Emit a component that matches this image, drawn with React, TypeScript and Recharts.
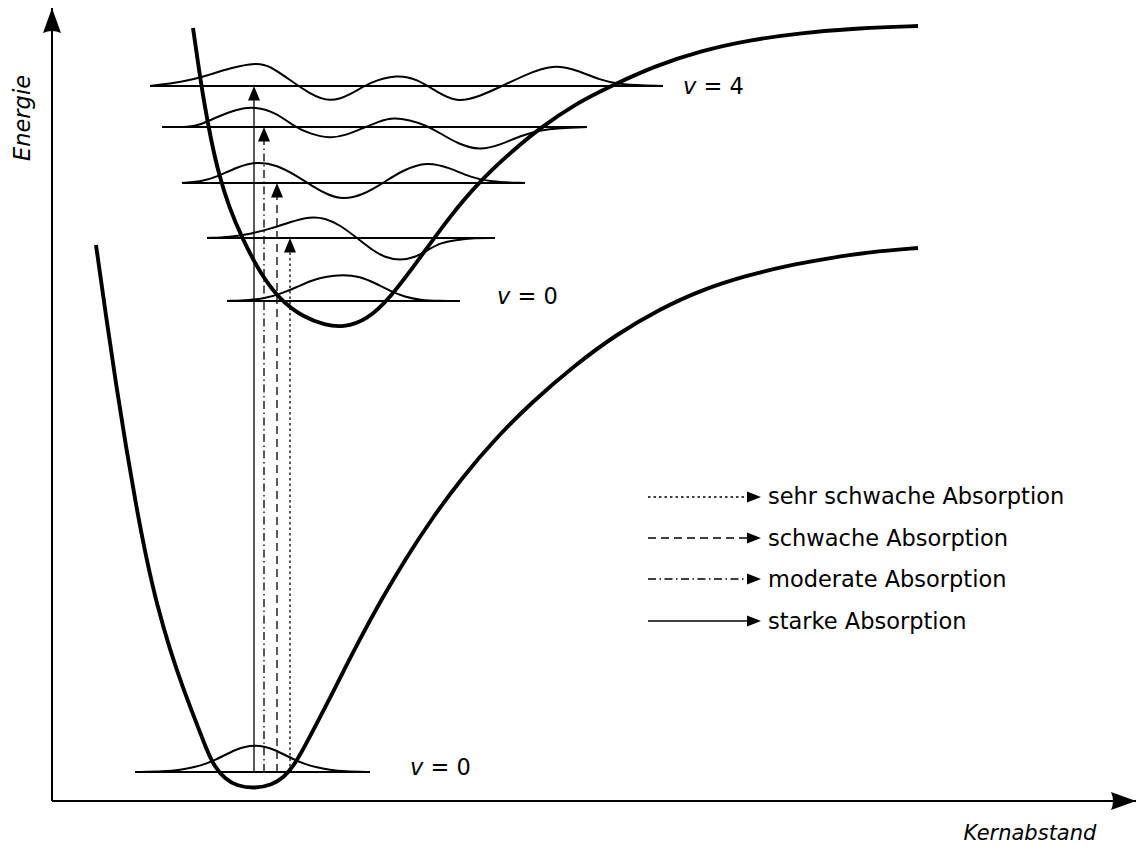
import React from 'react';
import { ComposedChart, Line, XAxis, YAxis, ReferenceLine, ReferenceDot, Legend } from 'recharts';

// ---------------- data (x = Kernabstand, y = Energie, arbitrary units) ----------------
const groundPotential = [
  [44, 556], [54, 485], [64, 417], [74, 354], [84, 296], [94, 244], [105, 196], [118, 151], [131, 113],
  [144, 79], [154, 53], [162, 35], [173, 22], [185, 15], [203, 12.5], [220, 16], [232, 24], [241, 34],
  [253, 55], [266, 80], [278, 103], [293, 133], [308, 162], [328, 199], [354, 243], [381, 284], [409, 322],
  [443, 362], [480, 399], [523, 436], [565, 467], [608, 492], [649, 511], [693, 525], [733, 535], [778, 543],
  [817, 549], [866, 553],
];
const excitedPotential = [
  [141, 773], [146, 738], [152, 699], [159, 661], [167, 626], [177, 594], [190, 563], [208, 528], [228, 501],
  [251, 484], [273, 476], [291, 473.5], [315, 481], [338, 503], [365, 539], [398, 585], [428, 620], [458, 648],
  [488, 673], [523, 697], [561, 716], [603, 735], [648, 750], [698, 761], [748, 768], [808, 773], [866, 775],
];

const groundLevelEnergy = 29;
const groundLevelStart = 83;
const groundLevelEnd = 318;
const excitedLevelEnergy = [500, 563, 618, 674, 715];
const excitedLevelStart = [175, 155, 130, 110, 98];
const excitedLevelEnd = [408, 443, 473, 535, 611];

const groundPsi0 = [
  [83, 29], [113, 29.5], [128, 31], [143, 34], [153, 37], [163, 41], [173, 46], [183, 51], [193, 54.5], [203, 55.5],
  [213, 54.5], [223, 51], [233, 46], [243, 41], [253, 37], [263, 34], [278, 31], [293, 29.5], [318, 29],
];
const excitedPsi0 = [
  [175, 500], [198, 501], [213, 502.5], [231, 508], [245, 514], [258, 520], [273, 524.5], [291, 526.5], [308, 524.5],
  [323, 518], [338, 510], [353, 504], [368, 501], [388, 500], [408, 500],
];
const excitedPsi1 = [
  [155, 563], [178, 564], [198, 567], [218, 572], [238, 579], [258, 584.5], [273, 583], [288, 576], [305, 563],
  [320, 551], [333, 543.5], [348, 540.5], [363, 543.5], [376, 551], [388, 558], [403, 561], [423, 563], [443, 563],
];
const excitedPsi2 = [
  [130, 618], [148, 619], [165, 624], [185, 634], [205, 639.5], [225, 636], [245, 625], [260, 615], [276, 606],
  [291, 601.5], [311, 606], [331, 618], [351, 631], [375, 639.5], [398, 633], [418, 624], [438, 619], [473, 618],
];
const excitedPsi3 = [
  [110, 674], [138, 674], [148, 676], [165, 684], [185, 692], [203, 694.5], [225, 688], [241, 675], [258, 667],
  [278, 662.5], [295, 666], [311, 673], [328, 680], [341, 683.5], [358, 681], [373, 676], [388, 668], [406, 657],
  [428, 650.5], [448, 656], [468, 665], [488, 671], [508, 673], [535, 674],
];
const excitedPsi4 = [
  [98, 715], [131, 719], [151, 724], [178, 733], [205, 738.5], [218, 735], [238, 721], [258, 707], [278, 698.5],
  [298, 706], [318, 719], [345, 726.5], [365, 722], [385, 709], [405, 698.5], [426, 704], [448, 714], [475, 727],
  [501, 736.5], [525, 731], [548, 721], [568, 716], [611, 715],
];

const transitionNames = ['sehr schwache Absorption', 'schwache Absorption', 'moderate Absorption', 'starke Absorption'];
const transitionX = [238, 225, 212, 202];
const transitionTargetV = [1, 2, 3, 4];

const levelLabelText = ['4', '0', '0'];
const levelLabelX = [631, 445, 358];
const levelLabelY = [715, 505, 34];

const X_MAX = 1084;
const Y_MAX = 793;

// ---------------- styles ----------------
const FONT = '"DejaVu Sans", "Noto Sans", sans-serif';
const INK = '#000';
const transitionDash = ['2.5 3', '8 5', '8 3.5 1.5 3.5', undefined];

const toPoints = (arr: number[][]) => arr.map(([x, y]) => ({ x, y }));
const levelSegment = (E: number, a: number, b: number) => [{ x: a, y: E }, { x: b, y: E }];

const UpHead = (props: any) => {
  const { cx, cy } = props;
  if (cx == null || cy == null) return null;
  return <path d={`M${cx},${cy} L${cx - 6},${cy + 14.5} L${cx + 6},${cy + 14.5} Z`} fill={INK} />;
};
const AxisHeadUp = (props: any) => {
  const { cx, cy } = props;
  if (cx == null || cy == null) return null;
  return <path d={`M${cx},${cy} L${cx - 9},${cy + 25} Q${cx},${cy + 21} ${cx + 9},${cy + 25} Z`} fill={INK} />;
};
const AxisHeadRight = (props: any) => {
  const { cx, cy } = props;
  if (cx == null || cy == null) return null;
  return <path d={`M${cx},${cy} L${cx - 25},${cy - 9} Q${cx - 21},${cy} ${cx - 25},${cy + 9} Z`} fill={INK} />;
};
const makeLevelLabel = (txt: string) => (props: any) => {
  const { cx, cy } = props;
  if (cx == null || cy == null) return null;
  return (
    <text x={cx} y={cy} dominantBaseline="central" fontFamily={FONT} fontSize={22.5} fill={INK}>
      <tspan fontStyle="italic">v</tspan>
      {' = ' + txt}
    </text>
  );
};

const XTitle = (props: any) => {
  const vb = props.viewBox || { x: 52, y: 801, width: 1084, height: 45 };
  return (
    <text x={vb.x + vb.width - 106} y={vb.y + 39} textAnchor="middle" fontFamily={FONT} fontStyle="italic" fontSize={21} fill={INK}>
      Kernabstand
    </text>
  );
};
const YTitle = (props: any) => {
  const vb = props.viewBox || { x: 0, y: 8, width: 52, height: 793 };
  const cx = vb.x + 22;
  const cy = vb.y + 110;
  return (
    <text x={cx} y={cy} textAnchor="middle" dominantBaseline="central" transform={`rotate(-90 ${cx} ${cy})`}
      fontFamily={FONT} fontStyle="italic" fontSize={22.5} fill={INK}>
      Energie
    </text>
  );
};

const LegendContent = () => (
  <div style={{ fontFamily: FONT, fontSize: 22.5, color: INK, lineHeight: 1 }}>
    {transitionNames.map((name, i) => (
      <div key={name} style={{ display: 'flex', alignItems: 'center', height: 41.4 }}>
        <svg width={120} height={20} style={{ display: 'block' }}>
          <line x1={0} y1={10} x2={101} y2={10} stroke={INK} strokeWidth={1.3} strokeDasharray={transitionDash[i]} />
          <path d="M113,10 L99,4.5 L99,15.5 Z" fill={INK} />
        </svg>
        <span style={{ whiteSpace: 'nowrap' }}>{name}</span>
      </div>
    ))}
  </div>
);

const wavefunctions = [groundPsi0, excitedPsi0, excitedPsi1, excitedPsi2, excitedPsi3, excitedPsi4];

export default function App() {
  return (
    <div style={{ position: 'absolute', left: 0, top: 0, width: 1137, height: 846, background: '#fff' }}>
      <ComposedChart width={1137} height={846} margin={{ top: 8, right: 1, bottom: 0, left: 0 }}>
        <XAxis type="number" dataKey="x" domain={[0, X_MAX]} height={45} tick={false} tickLine={false}
          axisLine={{ stroke: INK, strokeWidth: 2 }} label={<XTitle />} />
        <YAxis type="number" domain={[0, Y_MAX]} width={52} tick={false} tickLine={false}
          axisLine={{ stroke: INK, strokeWidth: 2 }} label={<YTitle />} />

        <Line data={levelSegment(groundLevelEnergy, groundLevelStart, groundLevelEnd)} dataKey="y" type="linear"
          stroke={INK} strokeWidth={2.2} dot={false} activeDot={false} legendType="none" isAnimationActive={false} />
        {excitedLevelEnergy.map((E, i) => (
          <Line key={'lvl' + i} data={levelSegment(E, excitedLevelStart[i], excitedLevelEnd[i])} dataKey="y" type="linear"
            stroke={INK} strokeWidth={2.2} dot={false} activeDot={false} legendType="none" isAnimationActive={false} />
        ))}

        {wavefunctions.map((w, i) => (
          <Line key={'psi' + i} data={toPoints(w)} dataKey="y" type="basis"
            stroke={INK} strokeWidth={2} dot={false} activeDot={false} legendType="none" isAnimationActive={false} />
        ))}

        <Line data={toPoints(groundPotential)} dataKey="y" type="basis" stroke={INK} strokeWidth={3.9}
          dot={false} activeDot={false} legendType="none" isAnimationActive={false} />
        <Line data={toPoints(excitedPotential)} dataKey="y" type="basis" stroke={INK} strokeWidth={3.9}
          dot={false} activeDot={false} legendType="none" isAnimationActive={false} />

        {transitionX.map((x, i) => {
          const E = excitedLevelEnergy[transitionTargetV[i]];
          return (
            <ReferenceLine key={'tr' + i} segment={[{ x, y: groundLevelEnergy }, { x, y: E - 8 }]}
              stroke={INK} strokeWidth={1.3} strokeDasharray={transitionDash[i]} ifOverflow="visible" />
          );
        })}
        {transitionX.map((x, i) => (
          <ReferenceDot key={'hd' + i} x={x} y={excitedLevelEnergy[transitionTargetV[i]]} r={1}
            shape={UpHead} ifOverflow="visible" />
        ))}

        {levelLabelText.map((t, i) => (
          <ReferenceDot key={'lab' + i} x={levelLabelX[i]} y={levelLabelY[i]} r={1}
            shape={makeLevelLabel(t)} ifOverflow="visible" />
        ))}

        <ReferenceDot x={0} y={Y_MAX} r={1} shape={AxisHeadUp} ifOverflow="visible" />
        <ReferenceDot x={X_MAX} y={0} r={1} shape={AxisHeadRight} ifOverflow="visible" />

        <Legend layout="vertical" align="center" verticalAlign="middle" content={LegendContent}
          wrapperStyle={{ position: 'absolute', left: 648, top: 476, width: 480, height: 170 }} />
      </ComposedChart>
    </div>
  );
}
